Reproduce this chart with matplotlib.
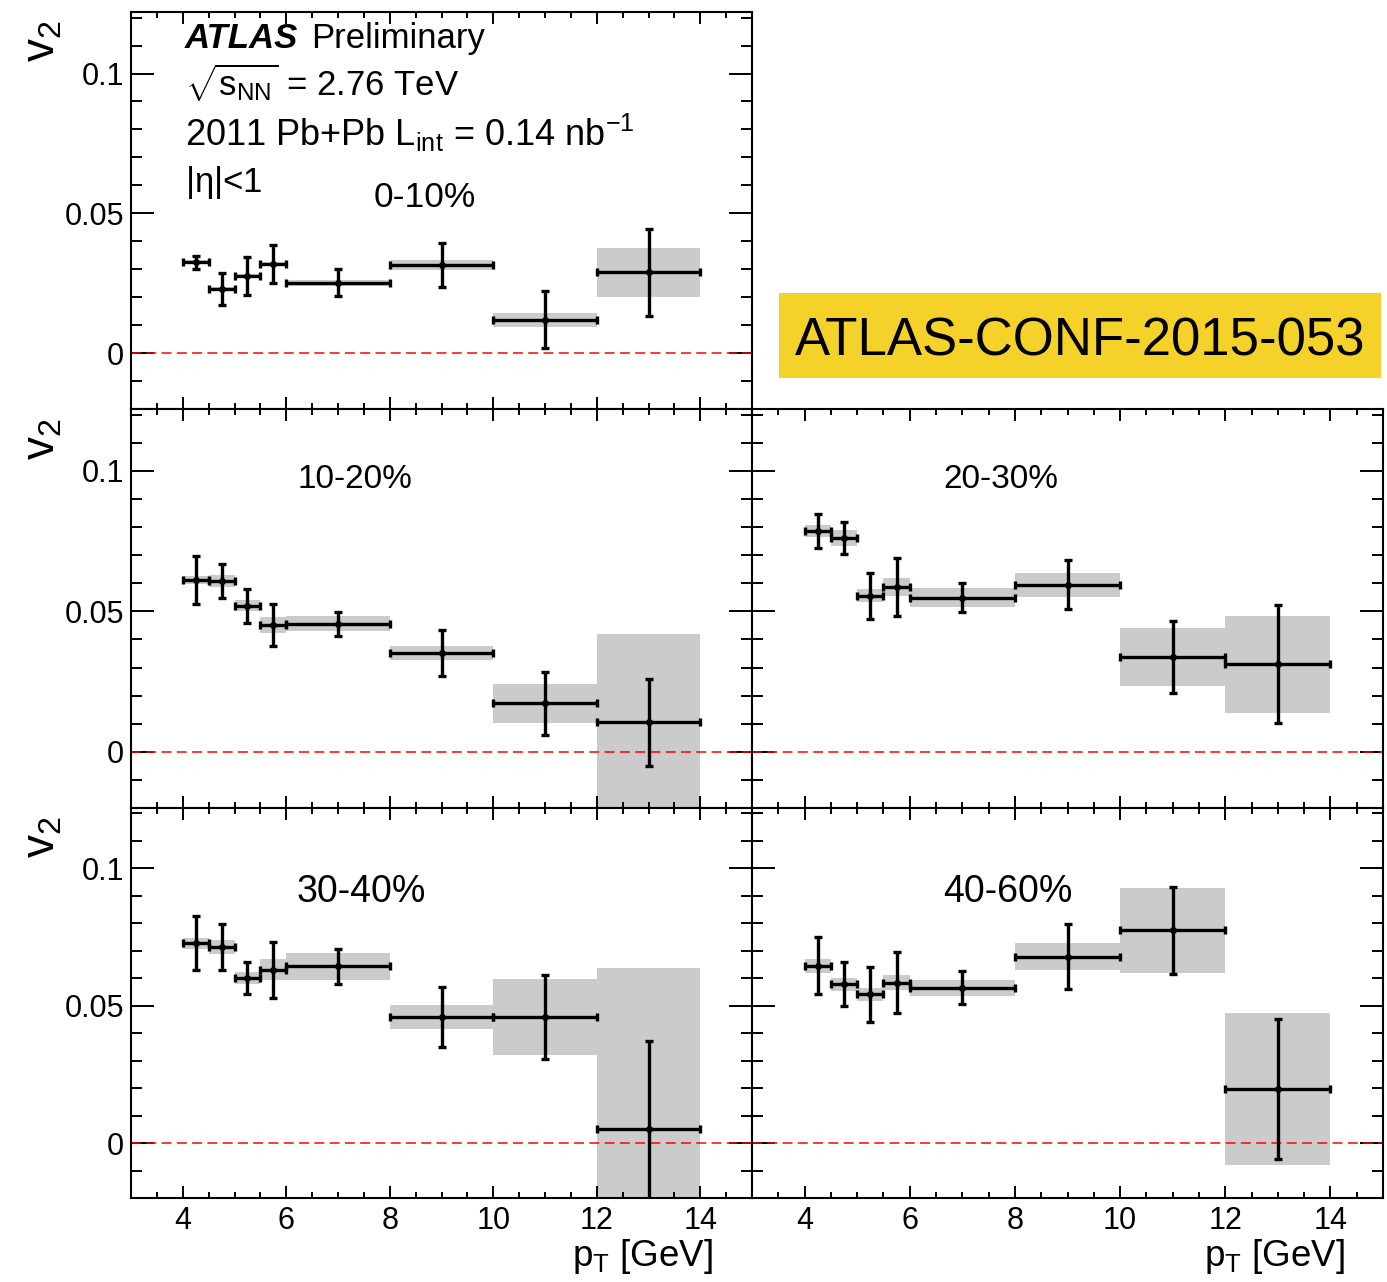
import numpy as np
import matplotlib
matplotlib.use("Agg")
import matplotlib.pyplot as plt
from matplotlib.patches import Rectangle
from matplotlib.ticker import FixedLocator, MultipleLocator

plt.rcParams['font.family'] = ['Liberation Sans', 'DejaVu Sans']
plt.rcParams['mathtext.default'] = 'regular'
plt.rcParams['mathtext.fontset'] = 'custom'
plt.rcParams['mathtext.rm'] = 'Liberation Sans'
plt.rcParams['mathtext.it'] = 'Liberation Sans:italic'

# pT bins
bin_lo = np.array([4, 4.5, 5, 5.5, 6, 8, 10, 12])
bin_hi = np.array([4.5, 5, 5.5, 6, 8, 10, 12, 14])
pt = (bin_lo + bin_hi) / 2

# v2 values, stat errors, sys errors per centrality
v2_0_10 = [0.0325, 0.0229, 0.0275, 0.0319, 0.0251, 0.0314, 0.0119, 0.0289]
stat_0_10 = [0.0024, 0.0057, 0.0067, 0.0069, 0.0048, 0.0079, 0.0102, 0.0156]
sys_0_10 = [0.0007, 0.0007, 0.0007, 0.0007, 0.0012, 0.0018, 0.0025, 0.0088]

v2_10_20 = [0.0612, 0.0608, 0.0520, 0.0451, 0.0456, 0.0351, 0.0173, 0.0105]
stat_10_20 = [0.0086, 0.0061, 0.0061, 0.0074, 0.0043, 0.0082, 0.0112, 0.0155]
sys_10_20 = [0.0015, 0.0020, 0.0020, 0.0027, 0.0026, 0.0026, 0.0070, 0.0313]

v2_20_30 = [0.0787, 0.0761, 0.0555, 0.0586, 0.0549, 0.0595, 0.0337, 0.0311]
stat_20_30 = [0.0060, 0.0056, 0.0082, 0.0104, 0.0053, 0.0088, 0.0128, 0.0210]
sys_20_30 = [0.0021, 0.0027, 0.0023, 0.0031, 0.0034, 0.0043, 0.0102, 0.0173]

v2_30_40 = [0.0727, 0.0714, 0.0600, 0.0631, 0.0643, 0.0459, 0.0459, 0.0050]
stat_30_40 = [0.0098, 0.0084, 0.0059, 0.0101, 0.0064, 0.0111, 0.0153, 0.0322]
sys_30_40 = [0.0021, 0.0024, 0.0022, 0.0039, 0.0049, 0.0043, 0.0139, 0.0589]

v2_40_60 = [0.0645, 0.0578, 0.0542, 0.0584, 0.0565, 0.0679, 0.0774, 0.0198]
stat_40_60 = [0.0104, 0.0080, 0.0100, 0.0111, 0.0060, 0.0117, 0.0157, 0.0255]
sys_40_60 = [0.0024, 0.0023, 0.0023, 0.0027, 0.0029, 0.0049, 0.0156, 0.0277]

W, H = 1387, 1282
fig = plt.figure(figsize=(W / 100, H / 100), dpi=100)

def box(x0, y0, x1, y1):
    # pixel box -> figure fraction rect
    return [x0 / W, 1 - y1 / H, (x1 - x0) / W, (y1 - y0) / H]

def px(x, y):
    return x / W, 1 - y / H

panels = [
    (box(131, 12, 752, 409), v2_0_10, stat_0_10, sys_0_10, '0-10%', (374, 207, 25.5), False, True),
    (box(131, 409, 752, 808), v2_10_20, stat_10_20, sys_10_20, '10-20%', (298, 488, 24), False, True),
    (box(752, 409, 1383, 808), v2_20_30, stat_20_30, sys_20_30, '20-30%', (943, 488, 24), False, False),
    (box(131, 808, 752, 1198), v2_30_40, stat_30_40, sys_30_40, '30-40%', (297, 902, 27), True, True),
    (box(752, 808, 1383, 1198), v2_40_60, stat_40_60, sys_40_60, '40-60%', (943, 902, 27), True, False),
]

for rect, v, st, sy, lab, lpos, xlab, ylab in panels:
    ax = fig.add_axes(rect)
    v = np.array(v)
    sy = np.array(sy)
    # systematic boxes
    ax.bar(pt, 2 * sy, bottom=v - sy, width=bin_hi - bin_lo, color='#cbcbcb',
           linewidth=0, zorder=1)
    ax.axhline(0, color='red', lw=1.1, ls=(0, (6.5, 3.5)), zorder=2)
    ax.errorbar(pt, v, yerr=st, xerr=(bin_hi - bin_lo) / 2, fmt='o', color='black',
                markersize=4, elinewidth=2.4, capsize=2.8, capthick=2.4, zorder=3)
    ax.set_xlim(3, 15)
    ax.set_ylim(-0.02, 0.122)
    ax.xaxis.set_major_locator(FixedLocator([4, 6, 8, 10, 12, 14]))
    ax.xaxis.set_minor_locator(MultipleLocator(0.5))
    ax.yaxis.set_major_locator(FixedLocator([0, 0.05, 0.1]))
    ax.yaxis.set_minor_locator(MultipleLocator(0.01))
    ax.set_yticklabels(['0', '0.05', '0.1'])
    ax.tick_params(axis='both', which='both', direction='in', top=True, right=True,
                   labelsize=22, width=1.4)
    ax.tick_params(axis='x', which='major', length=8.6, pad=6)
    ax.tick_params(axis='x', which='minor', length=4.3)
    ax.tick_params(axis='y', which='major', length=16.5, pad=5)
    ax.tick_params(axis='y', which='minor', length=8)
    ax.tick_params(labelbottom=xlab, labelleft=ylab)
    for s in ax.spines.values():
        s.set_linewidth(1.5)
    fx, fy = px(lpos[0], lpos[1])
    fig.text(fx, fy, lab, fontsize=lpos[2], ha='left', va='baseline')

# y axis titles
for ytop in [20, 418, 816]:
    fx, fy = px(42, ytop)
    fig.text(fx, fy, '$v_2$', fontsize=33, rotation=90, ha='center', va='top')

# x axis titles
for xr in [713, 1345]:
    fx, fy = px(xr, 1266)
    fig.text(fx, fy, 'p$_T$ [GeV]', fontsize=26.5, ha='right', va='baseline')

# ATLAS info block
fx, fy = px(185, 48)
fig.text(fx, fy, 'ATLAS', fontsize=25, fontweight='bold', fontstyle='italic',
         ha='left', va='baseline')
fig.text(px(311, 48)[0], fy, 'Preliminary', fontsize=25, ha='left', va='baseline')
fig.text(*px(185, 96), r'$\sqrt{s_{NN}}$ = 2.76 TeV', fontsize=25, ha='left', va='baseline')
fig.text(*px(185, 146), '2011 Pb+Pb L$_{int}$ = 0.14 nb$^{-1}$', fontsize=26,
         ha='left', va='baseline')
fig.text(*px(185, 192), r'|$\eta$|<1', fontsize=25, ha='left', va='baseline')

# conference note tag
fig.add_artist(Rectangle(px(779, 378), 602 / W, 85 / H, transform=fig.transFigure,
                         facecolor='#f4d22a', edgecolor='none'))
fig.text(*px(1080, 355), 'ATLAS-CONF-2015-053', fontsize=38, ha='center', va='baseline')

fig.savefig('out.png', dpi=100)
